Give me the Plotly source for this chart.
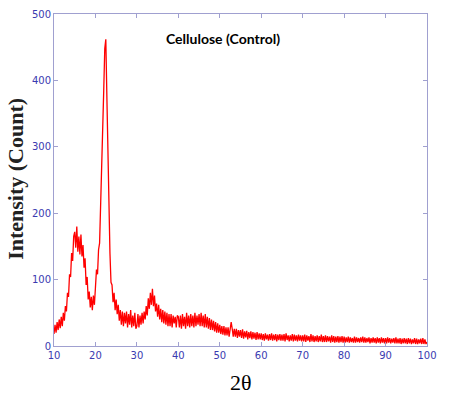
import plotly.graph_objects as go

# 2-theta grid (degrees), 0.25 step
two_theta = [round(10 + 0.25 * i, 2) for i in range(361)]

# Intensity (counts), 20 values per 5 degrees
intensity = (
    [18, 32, 20, 36, 24, 40, 27, 44, 30, 50, 38, 60, 52, 80, 74, 108, 104, 140, 128, 165]        # 10-14.75
    + [172, 148, 180, 142, 165, 138, 168, 135, 152, 118, 132, 92, 104, 70, 82, 58, 74, 54, 76, 62]  # 15-19.75
    + [88, 115, 108, 145, 155, 205, 255, 325, 385, 448, 462, 378, 285, 190, 140, 96, 92, 66, 80, 54]  # 20-24.75
    + [70, 48, 62, 38, 54, 32, 52, 30, 50, 34, 52, 28, 48, 32, 54, 28, 46, 30, 50, 26]          # 25-29.75
    + [30, 48, 28, 46, 32, 50, 34, 52, 40, 60, 46, 72, 56, 80, 62, 86, 60, 76, 52, 64]          # 30-34.75
    + [44, 62, 40, 56, 36, 54, 34, 52, 32, 50, 30, 48, 30, 48, 28, 46, 34, 44, 28, 46]          # 35-39.75
    + [44, 28, 46, 26, 48, 30, 44, 26, 50, 30, 46, 28, 48, 30, 46, 28, 50, 30, 46, 32]          # 40-44.75
    + [48, 30, 50, 30, 46, 28, 48, 28, 44, 26, 42, 24, 40, 24, 38, 22, 36, 20, 34, 20]          # 45-49.75
    + [32, 18, 30, 17, 30, 16, 28, 16, 28, 14, 30, 36, 26, 14, 26, 14, 26, 12, 24, 14]          # 50-54.75
    + [24, 12, 25, 11, 22, 13, 23, 10, 21, 12, 22, 10, 21, 11, 20, 9, 21, 10, 19, 10]           # 55-59.75
    + [19, 9, 18, 8, 19, 10, 17, 8, 18, 9, 19, 8, 17, 9, 18, 7, 17, 9, 18, 8]                   # 60-64.75
    + [17, 8, 18, 7, 19, 9, 16, 7, 16, 8, 18, 7, 17, 8, 16, 7, 17, 8, 16, 7]                    # 65-69.75
    + [16, 7, 17, 6, 16, 8, 15, 6, 18, 7, 16, 6, 15, 7, 16, 6, 15, 7, 17, 6]                    # 70-74.75
    + [15, 6, 16, 6, 15, 7, 14, 5, 16, 6, 15, 5, 14, 6, 15, 5, 14, 6, 15, 5]                    # 75-79.75
    + [14, 5, 13, 6, 14, 5, 13, 6, 12, 5, 14, 5, 13, 6, 12, 5, 13, 6, 14, 5]                    # 80-84.75
    + [13, 5, 12, 6, 13, 4, 12, 5, 13, 5, 12, 4, 13, 5, 12, 4, 13, 5, 12, 4]                    # 85-89.75
    + [12, 4, 13, 5, 12, 4, 11, 5, 12, 4, 13, 4, 11, 4, 12, 3, 11, 4, 12, 4]                    # 90-94.75
    + [11, 3, 12, 4, 11, 3, 10, 4, 12, 3, 11, 3, 10, 4, 11, 3, 12, 3, 10, 3]                    # 95-99.75
    + [6]                                                                                       # 100
)

x_ticks = [10, 20, 30, 40, 50, 60, 70, 80, 90, 100]
y_ticks = [0, 100, 200, 300, 400, 500]

axis_col = "#a0a0d0"
tick_font = dict(family="DejaVu Sans", size=10, color="#3a3ab0")

fig = go.Figure()
fig.add_trace(go.Scatter(
    x=two_theta, y=intensity, mode="lines",
    line=dict(color="#ff0000", width=1.3),
    showlegend=False,
))

fig.update_layout(
    width=452, height=394,
    margin=dict(l=54, r=25, t=8, b=48),
    paper_bgcolor="white", plot_bgcolor="white",
    xaxis=dict(range=[10, 100], tickvals=x_ticks, showgrid=False, zeroline=False,
               showline=True, linecolor=axis_col, linewidth=1, mirror="ticks",
               ticks="inside", ticklen=4, tickcolor=axis_col, tickfont=tick_font),
    yaxis=dict(range=[0, 500], tickvals=y_ticks, showgrid=False, zeroline=False,
               showline=True, linecolor=axis_col, linewidth=1, mirror="ticks",
               ticks="inside", ticklen=4, tickcolor=axis_col, tickfont=tick_font),
    annotations=[
        dict(text="<b>Cellulose (Control)</b>", xref="paper", yref="paper",
             x=0.453, y=0.926, xanchor="center", yanchor="middle", showarrow=False,
             font=dict(family="Lato", size=14, color="black")),
        dict(text="<b>Intensity (Count)</b>", xref="paper", yref="paper",
             x=-0.105, y=0.503, xanchor="center", yanchor="middle",
             textangle=-90, showarrow=False,
             font=dict(family="Liberation Serif", size=22, color="#222222")),
        dict(text="2θ", xref="paper", yref="paper",
             x=0.501, y=-0.109, xanchor="center", yanchor="middle", showarrow=False,
             font=dict(family="Liberation Serif", size=22, color="black")),
    ],
)

fig.write_html("out.html", config={"displayModeBar": False},
               post_script="document.body.style.margin='0';")
